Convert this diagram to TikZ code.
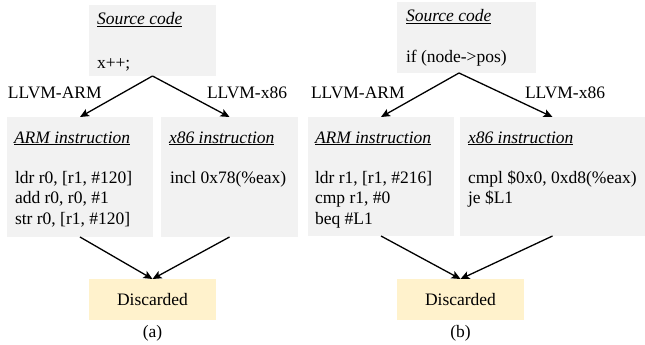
\documentclass[tikz,border=0pt]{standalone}
\usepackage{fontspec}
\setmainfont{Liberation Serif}
\usetikzlibrary{arrows.meta}
\definecolor{boxgray}{HTML}{F2F2F2}
\definecolor{boxyellow}{HTML}{FFF2CC}
\newcommand{\boxtitle}[1]{\underline{\textit{#1}}}
\newcommand{\codelines}[1]{\begin{tabular}[t]{@{}l@{}}#1\end{tabular}}
\tikzset{
  every node/.style={font=\fontsize{17.5}{20.5}\selectfont, inner sep=0pt, outer sep=0pt},
  codebox/.style={fill=boxgray, anchor=north west},
  discbox/.style={fill=boxyellow, anchor=north west, minimum width=127pt, minimum height=41pt},
  linetext/.style={anchor=base west},
  flow/.style={line width=1.3pt, -{Stealth[length=9pt,width=8pt,inset=2pt]}}
}
\begin{document}
\begin{tikzpicture}[x=1pt,y=-1pt]
\useasboundingbox (0,0) rectangle (645,345);

% ---------- panel (a) ----------
\node[codebox, minimum width=127pt, minimum height=71pt] (srcA) at (89,5) {};
\node[codebox, minimum width=146pt, minimum height=120pt] (armA) at (7,117) {};
\node[codebox, minimum width=137pt, minimum height=120pt] (x86A) at (161,117) {};
\node[discbox] (discA) at (89,279) {};
\node at (discA.center) (discAtext) {Discarded};

\node[linetext] (srcAtitle) at (97,25) {\boxtitle{Source code}};
\node[linetext] (srcAcode) at (97,68) {x++;};
\node[linetext] (armAtitle) at (14,143) {\boxtitle{ARM instruction}};
\node[linetext] (armAcode) at (15,183) {\codelines{ldr r0, [r1, \#120]\\add r0, r0, \#1\\str r0, [r1, \#120]}};
\node[linetext] (x86Atitle) at (169,143) {\boxtitle{x86 instruction}};
\node[linetext] (x86Acode) at (170,183) {incl 0x78(\%eax)};

\node[linetext] (armAlabel) at (8,99) {LLVM-ARM};
\node[linetext] (x86Alabel) at (207,99) {LLVM-x86};

\draw[flow] (srcA.south) -- (armA.north);
\draw[flow] (srcA.south) -- (x86A.north);
\draw[flow] (armA.south) -- (discA.north);
\draw[flow] (x86A.south) -- (discA.north);

\node (capA) at (152.5,333) {(a)};

% ---------- panel (b) ----------
\node[codebox, minimum width=139pt, minimum height=71pt] (srcB) at (397,2) {};
\node[codebox, minimum width=146pt, minimum height=119pt] (armB) at (308,117) {};
\node[codebox, minimum width=185pt, minimum height=119pt] (x86B) at (460,117) {};
\node[discbox] (discB) at (397,279) {};
\node at (discB.center) (discBtext) {Discarded};
\coordinate (srcBtip) at ([xshift=-7.5pt]srcB.south);

\node[linetext] (srcBtitle) at (406,22) {\boxtitle{Source code}};
\node[linetext] (srcBcode) at (406,63) {if (node->pos)};
\node[linetext] (armBtitle) at (315,143) {\boxtitle{ARM instruction}};
\node[linetext] (armBcode) at (315,183) {\codelines{ldr r1, [r1, \#216]\\cmp r1, \#0\\beq \#L1}};
\node[linetext] (x86Btitle) at (468,143) {\boxtitle{x86 instruction}};
\node[linetext] (x86Bcode) at (468,183) {\codelines{cmpl \$0x0, 0xd8(\%eax)\\je \$L1}};

\node[linetext] (armBlabel) at (311,99) {LLVM-ARM};
\node[linetext] (x86Blabel) at (525,99) {LLVM-x86};

\draw[flow] (srcBtip) -- (armB.north);
\draw[flow] (srcBtip) -- (x86B.north);
\draw[flow] (armB.south) -- (discB.north);
\draw[flow] (x86B.south) -- (discB.north);

\node (capB) at (460.5,333) {(b)};
\end{tikzpicture}
\end{document}
